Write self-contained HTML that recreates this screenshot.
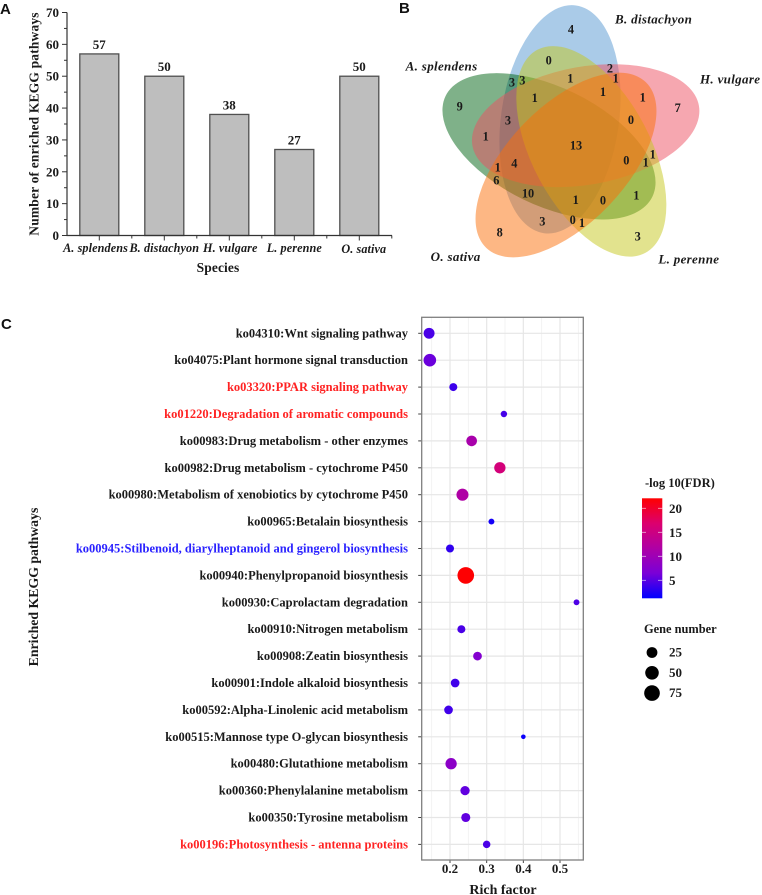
<!DOCTYPE html>
<html lang="en">
<head>
<meta charset="utf-8">
<title>KEGG pathway enrichment figure</title>
<style>
html,body{margin:0;padding:0;background:#fff;}
body{width:762px;height:895px;overflow:hidden;}
svg{display:block;filter:blur(0.35px);}
text{font-family:"Liberation Serif",serif;font-weight:bold;fill:#1a1a1a;}
.panel-letter{font-family:"Liberation Sans",sans-serif;font-size:15px;fill:#111;}
.sp{font-style:italic;}
</style>
</head>
<body>
<svg id="fig" width="762" height="895" viewBox="0 0 762 895" xmlns="http://www.w3.org/2000/svg">
  <defs>
    <linearGradient id="fdr-gradient" x1="0" y1="1" x2="0" y2="0">
      <stop offset="0" stop-color="#0000ff"/>
      <stop offset="0.25" stop-color="#7a00d7"/>
      <stop offset="0.5" stop-color="#af00a5"/>
      <stop offset="0.75" stop-color="#dc006e"/>
      <stop offset="1" stop-color="#ff0000"/>
    </linearGradient>
  </defs>
  <text class="panel-letter" x="0" y="14">A</text>
  <text class="panel-letter" x="399" y="13">B</text>
  <text class="panel-letter" x="1" y="329">C</text>

  <g id="bar-chart"></g>

  <g id="venn" transform="translate(390 0) scale(0.33333)">
    <ellipse cx="510" cy="358" rx="177" ry="345" transform="rotate(8 510 358)" fill="#5598d2" fill-opacity="0.5"/>
    <ellipse cx="477" cy="439" rx="177" ry="345" transform="rotate(296 477 439)" fill="#006414" fill-opacity="0.5"/>
    <ellipse cx="587" cy="377" rx="177" ry="345" transform="rotate(80 587 377)" fill="#ee5062" fill-opacity="0.5"/>
    <ellipse cx="604" cy="454" rx="177" ry="345" transform="rotate(152 604 454)" fill="#c5c81e" fill-opacity="0.5"/>
    <ellipse cx="528" cy="495" rx="177" ry="345" transform="rotate(224 528 495)" fill="#fb700a" fill-opacity="0.5"/>
    <g font-size="37" text-anchor="middle" dominant-baseline="central">
      <text x="543" y="88">4</text><text x="476" y="182">0</text><text x="660" y="206">2</text><text x="677" y="236">1</text>
      <text x="541" y="236">1</text><text x="366" y="248">3</text><text x="397" y="242">3</text><text x="639" y="276">1</text>
      <text x="758" y="293">1</text><text x="434" y="294">1</text><text x="209" y="320">9</text><text x="863" y="324">7</text>
      <text x="723" y="360">0</text><text x="354" y="362">3</text><text x="287" y="409">1</text><text x="558" y="436">13</text>
      <text x="788" y="464">1</text><text x="709" y="482">0</text><text x="767" y="488">1</text><text x="373" y="490">4</text>
      <text x="323" y="503">1</text><text x="319" y="541">6</text><text x="414" y="580">10</text><text x="739" y="587">1</text>
      <text x="557" y="600">1</text><text x="639" y="601">0</text><text x="548" y="660">0</text><text x="457" y="665">3</text>
      <text x="576" y="669">1</text><text x="329" y="698">8</text><text x="743" y="709">3</text>
    </g>
    <g font-size="39" class="sp" letter-spacing="1">
      <text class="sp" x="675" y="70">B. distachyon</text>
      <text class="sp" x="47" y="211">A. splendens</text>
      <text class="sp" x="930" y="250">H. vulgare</text>
      <text class="sp" x="122" y="783">O. sativa</text>
      <text class="sp" x="805" y="790">L. perenne</text>
    </g>
  </g>

  <g id="bubble-chart"></g>

  <g id="legends">
    <text x="645" y="487" font-size="12.5">-log 10(FDR)</text>
    <rect x="642" y="498.3" width="20.3" height="100" fill="url(#fdr-gradient)"/>
    <text x="644" y="633" font-size="12.4">Gene number</text>
  </g>
</svg>
<script>
// Panel A data
const barCategories = ["A. splendens", "B. distachyon", "H. vulgare", "L. perenne", "O. sativa"];
const barValues = [57, 50, 38, 27, 50];
const barTicks = [0, 10, 20, 30, 40, 50, 60, 70];

// Panel C data
const pathways = [
  "ko04310:Wnt signaling pathway",
  "ko04075:Plant hormone signal transduction",
  "ko03320:PPAR signaling pathway",
  "ko01220:Degradation of aromatic compounds",
  "ko00983:Drug metabolism - other enzymes",
  "ko00982:Drug metabolism - cytochrome P450",
  "ko00980:Metabolism of xenobiotics by cytochrome P450",
  "ko00965:Betalain biosynthesis",
  "ko00945:Stilbenoid, diarylheptanoid and gingerol biosynthesis",
  "ko00940:Phenylpropanoid biosynthesis",
  "ko00930:Caprolactam degradation",
  "ko00910:Nitrogen metabolism",
  "ko00908:Zeatin biosynthesis",
  "ko00901:Indole alkaloid biosynthesis",
  "ko00592:Alpha-Linolenic acid metabolism",
  "ko00515:Mannose type O-glycan biosynthesis",
  "ko00480:Glutathione metabolism",
  "ko00360:Phenylalanine metabolism",
  "ko00350:Tyrosine metabolism",
  "ko00196:Photosynthesis - antenna proteins"
];
const pathwayGroups = ["k","k","r","r","k","k","k","k","b","k","k","k","k","k","k","k","k","k","k","r"];
const richFactor = [0.143,0.145,0.209,0.347,0.259,0.336,0.234,0.313,0.200,0.243,0.545,0.231,0.275,0.214,0.196,0.400,0.203,0.241,0.243,0.300];
const geneCount = [26,40,9,4,24,29,35,3,9,88,3,9,12,12,12,2,29,15,14,7];
const fdrScore = [4.4,5.8,3.8,4.2,11,15.8,11.7,2.1,3.3,22,4.6,4.4,7.3,4,4,1.7,8.1,5.4,5.4,4.4];
const richTicks = [0.2, 0.3, 0.4, 0.5];
const richMinorTicks = [0.15, 0.25, 0.35, 0.45, 0.55];
const fdrTicks = [5, 10, 15, 20];
const geneLegend = [25, 50, 75];

const NS = "http://www.w3.org/2000/svg";
function mk(parent, tag, attrs, txt) {
  const el = document.createElementNS(NS, tag);
  for (const k in attrs) el.setAttribute(k, attrs[k]);
  if (txt !== undefined) el.textContent = txt;
  parent.appendChild(el);
  return el;
}

// ---------- Panel A ----------
const barRoot = document.getElementById("bar-chart");
const barY = v => 235.5 - v * (223 / 70);
const barX = i => 99.3 + 65 * i;
const barWidth = 39;
const barLabelShift = [-3.8, 0, 1, 0, 4.5];

barValues.forEach((v, i) => {
  const bar = mk(barRoot, "rect", {x: barX(i) - barWidth / 2, y: barY(v), width: barWidth, height: barY(0) - barY(v), fill: "#bebebe", stroke: "#505050", "stroke-width": 1.3});
  
  
  const val = mk(barRoot, "text", {x: barX(i), y: barY(v) - 5, "font-size": 13, "text-anchor": "middle"}, v);
  
  
  const tick = mk(barRoot, "line", {x1: barX(i), x2: barX(i), y1: 235.5, y2: 240.5, stroke: "#333", "stroke-width": 1});
  
  
  const minor = mk(barRoot, "line", {x1: barX(i) + 32.5, x2: barX(i) + 32.5, y1: 235.5, y2: 238.5, stroke: "#333", "stroke-width": 1});
  
  
  const lab = mk(barRoot, "text", {x: barX(i) + barLabelShift[i], y: i === 4 ? 253 : 252, "font-size": 12.2, "text-anchor": "middle", "font-style": "italic", "letter-spacing": 0.1}, barCategories[i]);
  
  
});
barTicks.forEach((t, i) => {
  const tick = mk(barRoot, "line", {x1: 62, x2: 67, y1: barY(t), y2: barY(t), stroke: "#333", "stroke-width": 1});
  
  
  if (i < barTicks.length - 1) {
    const m = mk(barRoot, "line", {x1: 64, x2: 67, y1: barY(t + 5), y2: barY(t + 5), stroke: "#333", "stroke-width": 1});
    
    
  }
  const lab = mk(barRoot, "text", {x: 59, y: barY(t) + 4.5, "font-size": 13, "text-anchor": "end"}, t);
  
  
});
const barAxisX = mk(barRoot, "line", {x1: 66.5, x2: 392, y1: 235.5, y2: 235.5, stroke: "#333", "stroke-width": 1.2});


const barAxisY = mk(barRoot, "line", {x1: 67, x2: 67, y1: 12.5, y2: 236, stroke: "#333", "stroke-width": 1.2});


const barYTitle = mk(barRoot, "text", {x: 0, y: 0, "font-size": 13.5, "text-anchor": "middle", "letter-spacing": 0.17, transform: "translate(38.5 124) rotate(-90)"}, "Number of enriched KEGG pathways");


const barXTitle = mk(barRoot, "text", {x: 218, y: 272, "font-size": 13.5, "text-anchor": "middle", "letter-spacing": 0.1}, "Species");



// ---------- Panel C ----------
const bub = document.getElementById("bubble-chart");
const leg = document.getElementById("legends");
const pL = 421.7, pR = 583.3, pT = 317.3, pB = 860;
const xRich = v => 450 + (v - 0.2) * 366.7;
const yRow = i => 333.3 + i * 26.9;
const rGene = g => 2.3 + 6 * Math.sqrt(Math.max(0, g - 2) / 86);
const yFdr = v => 580.3 - (v - 5) * 4.8;
const colorStops = [[0,0,255],[122,0,215],[175,0,165],[220,0,110],[255,0,0]];
function fdrColor(v) {
  const t = Math.min(1, Math.max(0, (v - 1.25) / 20.83)) * 4;
  const i = Math.min(3, Math.floor(t)), f = t - i;
  const c = colorStops[i].map((a, k) => Math.round(a + (colorStops[i + 1][k] - a) * f));
  return "rgb(" + c.join(",") + ")";
}
const labelColor = {k: "#1a1a1a", r: "#ff2222", b: "#2a22ff"};

richMinorTicks.forEach(t => {
  const g = mk(bub, "line", {x1: xRich(t), x2: xRich(t), y1: pT, y2: pB, stroke: "#f0f0f0", "stroke-width": 0.8});
  
  
});
richTicks.forEach(t => {
  const g = mk(bub, "line", {x1: xRich(t), x2: xRich(t), y1: pT, y2: pB, stroke: "#e6e6e6", "stroke-width": 1.2});
  
  
  const tk = mk(bub, "line", {x1: xRich(t), x2: xRich(t), y1: pB, y2: pB + 3, stroke: "#444", "stroke-width": 1});
  
  
  const lb = mk(bub, "text", {x: xRich(t), y: 873, "font-size": 13, "text-anchor": "middle"}, t.toFixed(1));
  
  
});
pathways.forEach((name, i) => {
  const g = mk(bub, "line", {x1: pL, x2: pR, y1: yRow(i), y2: yRow(i), stroke: "#e6e6e6", "stroke-width": 1.2});
  
  
  const tk = mk(bub, "line", {x1: pL - 3.5, x2: pL, y1: yRow(i), y2: yRow(i), stroke: "#444", "stroke-width": 1});
  
  
  const lb = mk(bub, "text", {x: 408, y: yRow(i) + 4, "font-size": 12.5, "text-anchor": "end", style: "fill:" + labelColor[pathwayGroups[i]]}, name);
  
  
});
const frame = mk(bub, "rect", {x: pL, y: pT, width: pR - pL, height: pB - pT, fill: "none", stroke: "#7f7f7f", "stroke-width": 1.3});


pathways.forEach((name, i) => {
  const c = mk(bub, "circle", {cx: xRich(richFactor[i]), cy: yRow(i), r: rGene(geneCount[i]), fill: fdrColor(fdrScore[i])});
  
  
});
const bubY = mk(bub, "text", {x: 0, y: 0, "font-size": 13.8, "text-anchor": "middle", transform: "translate(38 587) rotate(-90)"}, "Enriched KEGG pathways");


const bubX = mk(bub, "text", {x: 503, y: 894, "font-size": 14, "text-anchor": "middle"}, "Rich factor");



// ---------- Legends ----------
fdrTicks.forEach(t => {
  const a = mk(leg, "line", {x1: 642, x2: 646, y1: yFdr(t), y2: yFdr(t), stroke: "#fff", "stroke-opacity": 0.7, "stroke-width": 0.8});
  
  
  const b = mk(leg, "line", {x1: 658, x2: 662.3, y1: yFdr(t), y2: yFdr(t), stroke: "#fff", "stroke-opacity": 0.7, "stroke-width": 0.8});
  
  
  const l = mk(leg, "text", {x: 669, y: yFdr(t) + 4.5, "font-size": 13}, t);
  
  
});
geneLegend.forEach((g, i) => {
  const y = 652.5 + i * 20.3;
  const c = mk(leg, "circle", {cx: 652, cy: y, r: rGene(g), fill: "#000"});
  
  
  const l = mk(leg, "text", {x: 669, y: y + 4, "font-size": 13}, g);
  
  
});
</script>
</body>
</html>
